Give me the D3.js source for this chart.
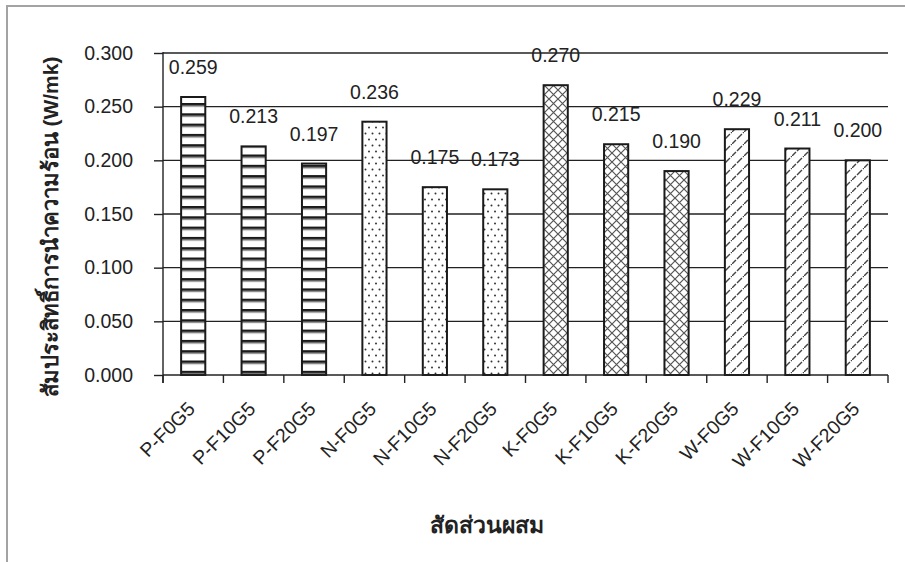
<!DOCTYPE html>
<html>
<head>
<meta charset="utf-8">
<script src="https://cdn.jsdelivr.net/npm/d3@7"></script>
<style>
body { margin: 0; background: #fff; }
svg text { font-family: "Liberation Sans", Arial, sans-serif; fill: #222; }
</style>
</head>
<body>
<svg id="chart" width="905" height="562"></svg>
<script>
var categories = ["P-F0G5", "P-F10G5", "P-F20G5", "N-F0G5", "N-F10G5", "N-F20G5",
                  "K-F0G5", "K-F10G5", "K-F20G5", "W-F0G5", "W-F10G5", "W-F20G5"];
var values = [0.259, 0.213, 0.197, 0.236, 0.175, 0.173, 0.270, 0.215, 0.190, 0.229, 0.211, 0.200];
var groups = ["hstripe", "hstripe", "hstripe", "dots", "dots", "dots",
              "cross", "cross", "cross", "diag", "diag", "diag"];
var yTicks = [0, 0.05, 0.1, 0.15, 0.2, 0.25, 0.3];
var yTitleThai = "สัมประสิทธิ์การนำความร้อน";
var yTitleUnit = " (W/mk)";
var xTitle = "สัดส่วนผสม";

var svg = d3.select("#chart");

// outer frame (only top/left show in the picture)
svg.append("rect")
.attr("x", 7).attr("y", 6)
.attr("width", 960).attr("height", 600)
.attr("fill", "none")
.attr("stroke", "#a3a3a3")
.attr("stroke-width", 2);

var pLeft = 163, pRight = 888, pTop = 53, pBottom = 375;

var x = d3.scaleBand().domain(categories).range([pLeft, pRight])
.paddingInner(0.6).paddingOuter(0.3);
var y = d3.scaleLinear().domain([0, 0.3]).range([pBottom, pTop]);

// patterns
var defs = svg.append("defs");

var p = defs.append("pattern").attr("id", "hstripe")
.attr("patternUnits", "userSpaceOnUse").attr("width", 10).attr("height", 10.3);
p.append("rect").attr("width", 10).attr("height", 10.3).attr("fill", "#fff");
p.append("rect").attr("y", 0).attr("width", 10).attr("height", 2.6).attr("fill", "#1a1a1a");
p.append("rect").attr("y", 2.6).attr("width", 10).attr("height", 1.3).attr("fill", "#999");

p = defs.append("pattern").attr("id", "dots")
.attr("patternUnits", "userSpaceOnUse").attr("width", 7).attr("height", 12);
p.append("rect").attr("width", 7).attr("height", 12).attr("fill", "#fff");
p.append("circle").attr("cx", 1.5).attr("cy", 1.5).attr("r", 1).attr("fill", "#333");
p.append("circle").attr("cx", 5).attr("cy", 7.5).attr("r", 1).attr("fill", "#333");

p = defs.append("pattern").attr("id", "cross")
.attr("patternUnits", "userSpaceOnUse").attr("width", 9).attr("height", 9);
p.append("rect").attr("width", 9).attr("height", 9).attr("fill", "#fff");
p.append("path").attr("d", "M0,0L9,9M9,0L0,9")
.attr("stroke", "#555").attr("stroke-width", 1.2).attr("fill", "none");

p = defs.append("pattern").attr("id", "diag")
.attr("patternUnits", "userSpaceOnUse").attr("width", 12).attr("height", 12);
p.append("rect").attr("width", 12).attr("height", 12).attr("fill", "#fff");
p.append("path").attr("d", "M-1,13L13,-1")
.attr("stroke", "#444").attr("stroke-width", 1.4).attr("fill", "none")
.attr("stroke-dasharray", "7,1.5");

// gridlines
svg.append("g")
.selectAll("line")
.data(yTicks.slice(1))
.enter().append("line")
.attr("x1", pLeft).attr("x2", pRight)
.attr("y1", function(d) { return y(d); })
.attr("y2", function(d) { return y(d); })
.attr("stroke", "#222")
.attr("stroke-width", 1.4);

// y axis
var yAxis = svg.append("g")
.attr("transform", "translate(" + pLeft + ",0)")
.call(d3.axisLeft(y).tickValues(yTicks).tickFormat(d3.format(".3f"))
      .tickSize(9).tickPadding(21).tickSizeOuter(0));
yAxis.select(".domain").remove();
yAxis.selectAll(".tick line").attr("stroke", "#222").attr("stroke-width", 1.4);
yAxis.selectAll(".tick text")
.style("font-size", "19.5px")
.style("font-family", "'Liberation Sans', Arial, sans-serif")
.attr("fill", "#222");

svg.append("line")
.attr("x1", pLeft).attr("x2", pLeft)
.attr("y1", pTop - 1).attr("y2", pBottom + 8)
.attr("stroke", "#222").attr("stroke-width", 1.4);

// bars
svg.append("g")
.selectAll("rect")
.data(values)
.enter().append("rect")
.attr("x", function(d, i) { return x(categories[i]); })
.attr("y", function(d) { return y(d); })
.attr("width", x.bandwidth())
.attr("height", function(d) { return pBottom - y(d); })
.attr("fill", function(d, i) { return "url(#" + groups[i] + ")"; })
.attr("stroke", "#1a1a1a")
.attr("stroke-width", 2);

// x axis line + boundary ticks
svg.append("line")
.attr("x1", pLeft).attr("x2", pRight)
.attr("y1", pBottom).attr("y2", pBottom)
.attr("stroke", "#222").attr("stroke-width", 1.4);

var bounds = categories.map(function(c) { return x(c) - x.step() * x.paddingOuter(); });
bounds.push(pRight);
svg.append("g")
.selectAll("line")
.data(bounds)
.enter().append("line")
.attr("x1", function(d) { return d; })
.attr("x2", function(d) { return d; })
.attr("y1", pBottom).attr("y2", pBottom + 8)
.attr("stroke", "#222").attr("stroke-width", 1.4);

// category labels
svg.append("g")
.selectAll("text")
.data(categories)
.enter().append("text")
.attr("transform", function(d) {
    return "translate(" + (x(d) + x.bandwidth() / 2 + 3) + ",410) rotate(-45)";
})
.attr("text-anchor", "end")
.style("font-size", "19.5px")
.text(function(d) { return d; });

// value labels
svg.append("g")
.selectAll("text")
.data(values)
.enter().append("text")
.attr("x", function(d, i) { return x(categories[i]) + x.bandwidth() / 2; })
.attr("y", function(d) { return y(d) - 23; })
.attr("text-anchor", "middle")
.style("font-size", "19.5px")
.text(function(d) { return d3.format(".3f")(d); });

// axis titles
var yt = svg.append("text")
.attr("transform", "translate(58,227) rotate(-90)")
.attr("text-anchor", "middle")
.style("font-weight", "bold");
yt.append("tspan").style("font-size", "22px").text(yTitleThai);
yt.append("tspan").style("font-size", "21px").text(yTitleUnit);

svg.append("text")
.attr("x", 487).attr("y", 533)
.attr("text-anchor", "middle")
.style("font-size", "23px")
.style("font-weight", "bold")
.text(xTitle);
</script>
</body>
</html>
